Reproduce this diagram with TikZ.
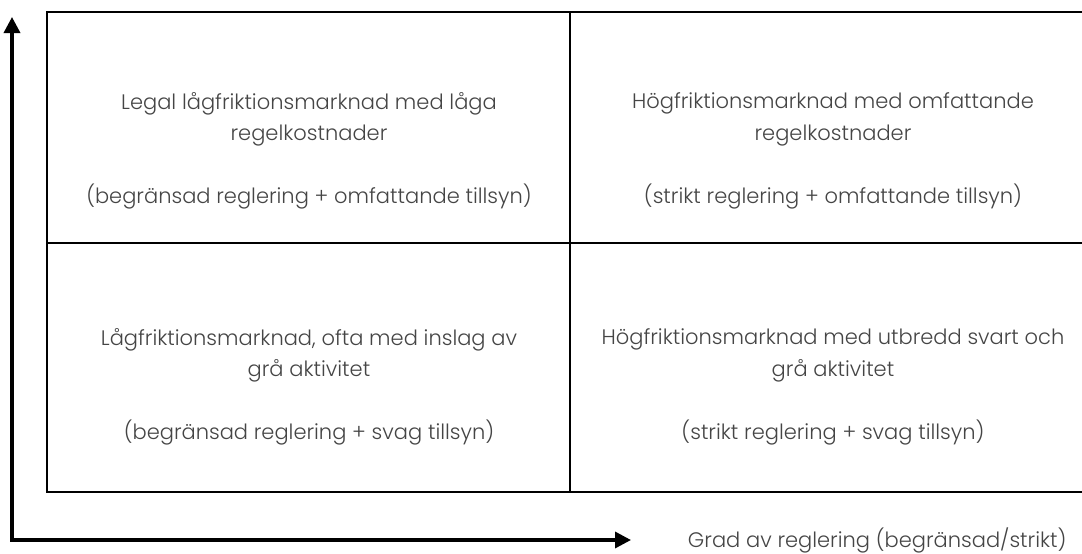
\documentclass[tikz,border=0pt]{standalone}
\usepackage{fontspec}
\setmainfont{Poppins}[UprightFont=* Light]
\usetikzlibrary{arrows.meta}
\definecolor{textgray}{rgb}{0.27,0.27,0.27}

\begin{document}
\begin{tikzpicture}[x=1pt,y=-1pt,
    celltext/.style={align=center,text=textgray,font=\fontsize{21}{31.5}\selectfont},
    gridline/.style={line width=2pt},
    axisline/.style={line width=3.4pt,{Triangle[length=16pt,width=16pt]}-{Triangle[length=16pt,width=16pt]}}]
    \useasboundingbox (0,0) rectangle (1082,554);

    % Quadrant grid (right edge runs off the page)
    \begin{scope}
        \clip (0,0) rectangle (1082,554);
        \draw[gridline] (47,12) rectangle (1096,492);
        \draw[gridline] (570,12) -- (570,492);
        \draw[gridline] (47,243) -- (1096,243);
    \end{scope}

    % Quadrant texts
    \node[celltext] (legal) at (309,151) {Legal lågfriktionsmarknad med låga\\regelkostnader\\[31.5pt](begränsad reglering + omfattande tillsyn)};
    \node[celltext] (hogomf) at (833,151) {Högfriktionsmarknad med omfattande\\regelkostnader\\[31.5pt](strikt reglering + omfattande tillsyn)};
    \node[celltext] (lagra) at (309,387) {Lågfriktionsmarknad, ofta med inslag av\\grå aktivitet\\[31.5pt](begränsad reglering + svag tillsyn)};
    \node[celltext] (hogsvart) at (833,387) {Högfriktionsmarknad med utbredd svart och\\grå aktivitet\\[31.5pt](strikt reglering + svag tillsyn)};

    % Axes
    \coordinate (origin) at (12,540);
    \coordinate (ytop) at (12,17);
    \coordinate (xend) at (631,540);
    \draw[axisline] (ytop) -- (origin) -- (xend);
    \node[celltext,anchor=east] (xlabel) at (1070,540) {Grad av reglering (begränsad/strikt)};
\end{tikzpicture}
\end{document}
